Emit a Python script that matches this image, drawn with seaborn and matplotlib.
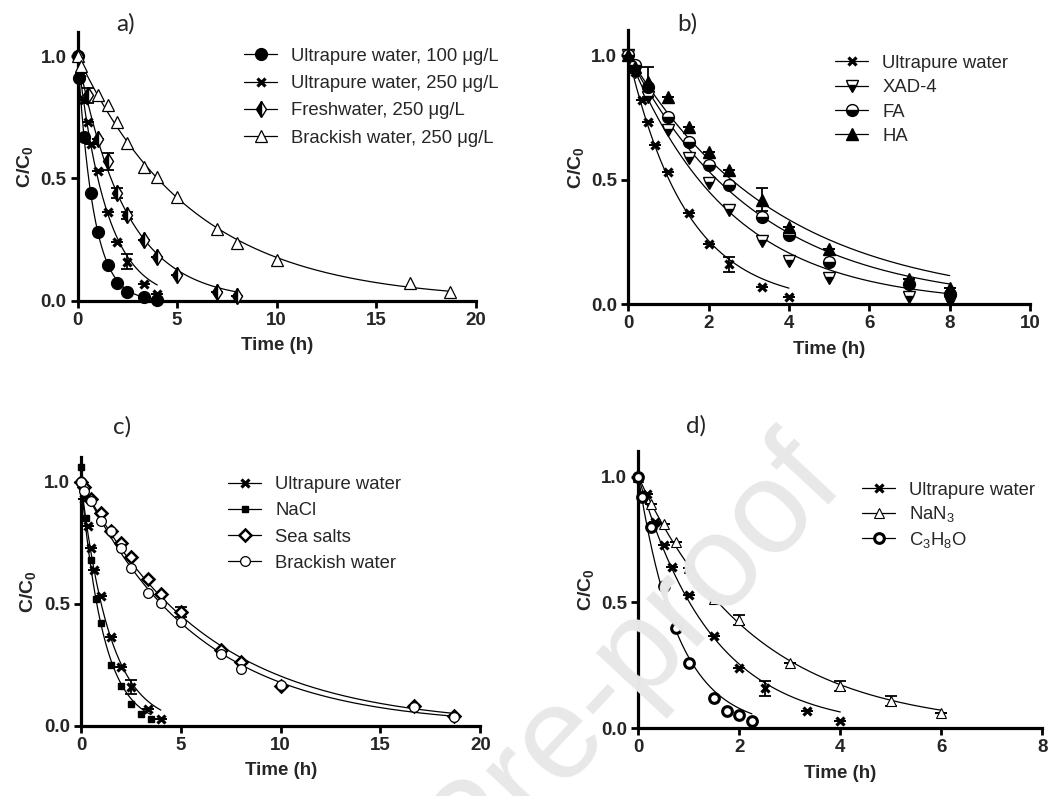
import numpy as np
import matplotlib

matplotlib.use("Agg")
import matplotlib.pyplot as plt
from matplotlib.lines import Line2D
import seaborn as sns

# ---- data (time in h, C/C0) ----
t_up = [0, 0.167, 0.333, 0.5, 0.667, 1, 1.5, 2, 2.5, 3.333, 4]
y_up = [1.0, 0.93, 0.82, 0.73, 0.64, 0.53, 0.365, 0.24, 0.16, 0.07, 0.03]
e_up = [0, 0, 0, 0, 0, 0, 0, 0, 0.03, 0, 0]

# a)
t_up100 = [0, 0.083, 0.333, 0.667, 1, 1.5, 2, 2.5, 3.333, 4]
y_up100 = [1.0, 0.91, 0.67, 0.44, 0.28, 0.146, 0.075, 0.035, 0.017, 0.005]
t_fresh = [0, 0.5, 1, 1.5, 2, 2.5, 3.333, 4, 5, 7, 8]
y_fresh = [1.0, 0.84, 0.66, 0.57, 0.44, 0.35, 0.25, 0.18, 0.105, 0.038, 0.02]
e_fresh = [0, 0.03, 0, 0.035, 0.02, 0.015, 0, 0, 0, 0, 0]
t_brack = [0, 0.167, 1, 1.5, 2, 2.5, 3.333, 4, 5, 7, 8, 10, 16.7, 18.7]
y_brack = [1.0, 0.96, 0.84, 0.80, 0.73, 0.645, 0.545, 0.505, 0.425, 0.295,
           0.235, 0.167, 0.075, 0.036]

# b)
t_nom = [0, 0.167, 0.5, 1, 1.5, 2, 2.5, 3.333, 4, 5, 7, 8]
y_xad = [1.0, 0.93, 0.83, 0.70, 0.585, 0.485, 0.38, 0.255, 0.175, 0.105, 0.03, 0.015]
y_fa = [1.0, 0.96, 0.87, 0.75, 0.65, 0.56, 0.48, 0.35, 0.28, 0.17, 0.08, 0.04]
y_ha = [1.0, 0.95, 0.89, 0.83, 0.71, 0.61, 0.54, 0.42, 0.31, 0.22, 0.10, 0.065]
e_ha = [0, 0, 0.06, 0, 0, 0, 0, 0.045, 0, 0, 0, 0]

# c)
t_nacl = [0, 0.083, 0.25, 0.5, 0.75, 1, 1.5, 2, 2.5, 3, 3.5]
y_nacl = [1.06, 0.97, 0.85, 0.68, 0.52, 0.42, 0.25, 0.165, 0.09, 0.048, 0.027]
t_sea = [0, 0.167, 0.5, 1, 1.5, 2, 2.5, 3.333, 4, 5, 7, 8, 10, 16.7, 18.7]
y_sea = [1.0, 0.98, 0.93, 0.87, 0.80, 0.75, 0.69, 0.60, 0.54, 0.465, 0.31,
         0.26, 0.165, 0.08, 0.04]
e_sea = [0, 0, 0, 0, 0, 0, 0, 0, 0, 0.02, 0, 0, 0, 0, 0]
t_brack_c = [0, 0.167, 0.5, 1, 1.5, 2, 2.5, 3.333, 4, 5, 7, 8, 10, 16.7, 18.7]
y_brack_c = [1.0, 0.96, 0.92, 0.84, 0.80, 0.73, 0.645, 0.545, 0.505, 0.425,
             0.295, 0.235, 0.168, 0.076, 0.038]

# d)
t_nan3 = [0, 0.25, 0.5, 0.75, 1, 1.5, 2, 3, 4, 5, 6]
y_nan3 = [1.0, 0.89, 0.81, 0.74, 0.635, 0.515, 0.43, 0.26, 0.17, 0.11, 0.06]
e_nan3 = [0, 0, 0, 0, 0, 0, 0.02, 0, 0.02, 0.02, 0]
t_prop = [0, 0.083, 0.25, 0.5, 0.75, 1, 1.5, 1.75, 2, 2.25]
y_prop = [1.0, 0.92, 0.80, 0.565, 0.40, 0.26, 0.12, 0.07, 0.053, 0.03]

FONT = "Liberation Sans"


def fit_curve(t, y):
    # first-order decay C/C0 = exp(-k t), least squares on a grid of k
    t = np.asarray(t, dtype=float)
    y = np.asarray(y, dtype=float)
    ks = np.linspace(0.01, 5, 20000)
    sse = ((y[None, :] - np.exp(-ks[:, None] * t[None, :])) ** 2).sum(axis=1)
    k = ks[np.argmin(sse)]
    tt = np.linspace(0, t.max(), 200)
    return tt, np.exp(-k * tt)


def draw_series(ax, t, y, err, style):
    tt, yy = fit_curve(t, y)
    sns.lineplot(x=tt, y=yy, ax=ax, color="black", linewidth=0.9,
                 legend=False, clip_on=False)
    ax.errorbar(t, y, yerr=err, fmt="none", ecolor="black", elinewidth=1.3,
                capsize=4, capthick=1.3, clip_on=False, zorder=3)
    ax.plot(t, y, linestyle="none", color="black", clip_on=False, zorder=4,
            **style)


def style_axes(ax, xmax, xstep, label, label_xy, handles, labels, leg_xy, spacing):
    ax.set_xlim(0, xmax)
    ax.set_ylim(0, 1.1)
    ax.set_xticks(np.arange(0, xmax + 0.01, xstep))
    ax.set_yticks([0, 0.5, 1.0])
    ax.set_yticklabels(["0.0", "0.5", "1.0"])
    for side in ("top", "right"):
        ax.spines[side].set_visible(False)
    for side in ("left", "bottom"):
        ax.spines[side].set_linewidth(2.3)
        ax.spines[side].set_color("black")
    ax.tick_params(direction="out", length=5, width=2, color="black",
                   labelsize=13.5, pad=3)
    for lab in ax.get_xticklabels() + ax.get_yticklabels():
        lab.set_fontweight("bold")
    ax.set_xlabel("Time (h)", fontsize=13.5, fontweight="bold", labelpad=6)
    ax.set_ylabel(r"$\mathbf{C/C_0}$", fontsize=14, labelpad=4)
    ax.text(label_xy[0], label_xy[1], label, transform=ax.transAxes,
            fontsize=17.5, family="Lato", ha="center", va="center")
    ax.legend(handles, labels, loc="upper left", bbox_to_anchor=leg_xy,
              frameon=False, fontsize=13.3, handlelength=1.8,
              handletextpad=0.75, labelspacing=spacing, borderpad=0,
              borderaxespad=0)


sns.set_style("ticks")
plt.rcParams["font.family"] = [FONT, "DejaVu Sans"]
plt.rcParams["mathtext.fontset"] = "custom"
plt.rcParams["mathtext.rm"] = FONT
plt.rcParams["mathtext.bf"] = FONT + ":bold"
plt.rcParams["mathtext.it"] = FONT + ":italic"

fig = plt.figure(figsize=(10.64, 7.96), dpi=100)
ax_a = fig.add_axes([0.073, 0.622, 0.374, 0.3383])
ax_b = fig.add_axes([0.5905, 0.6177, 0.3775, 0.3445])
ax_c = fig.add_axes([0.0761, 0.088, 0.3753, 0.3376])
ax_d = fig.add_axes([0.5999, 0.085, 0.3797, 0.3479])

m_x = dict(marker="x", markersize=6, markeredgewidth=2.3)
m_circ = dict(marker="o", markersize=8.5, markerfacecolor="black")
m_fresh = dict(marker="d", markersize=8, fillstyle="left",
               markerfacecoloralt="white", markeredgewidth=1)
m_tri_open = dict(marker="^", markersize=9, markerfacecolor="white",
                  markeredgewidth=0.9)
m_xad = dict(marker="v", markersize=8.5, fillstyle="bottom",
             markerfacecoloralt="white", markeredgewidth=1)
m_fa = dict(marker="o", markersize=8.5, fillstyle="bottom",
            markerfacecoloralt="white", markeredgewidth=1)
m_ha = dict(marker="^", markersize=8.5, markerfacecolor="black")
m_sq = dict(marker="s", markersize=4.5, markerfacecolor="black")
m_dia = dict(marker="D", markersize=6.5, markerfacecolor="white",
             markeredgewidth=1.8)
m_circ_open = dict(marker="o", markersize=7, markerfacecolor="white",
                   markeredgewidth=0.9)
m_tri_small = dict(marker="^", markersize=6.5, markerfacecolor="white",
                   markeredgewidth=0.8)
m_prop = dict(marker="o", markersize=7, markerfacecolor="white",
              markeredgewidth=2.2)


def handle(style):
    return Line2D([], [], color="black", linewidth=0.9, **style)


# a)
draw_series(ax_a, t_up100, y_up100, None, m_circ)
draw_series(ax_a, t_up, y_up, e_up, m_x)
draw_series(ax_a, t_fresh, y_fresh, e_fresh, m_fresh)
draw_series(ax_a, t_brack, y_brack, None, m_tri_open)
style_axes(ax_a, 20, 5, "a)", (0.121, 1.029),
           [handle(m_circ), handle(m_x), handle(m_fresh), handle(m_tri_open)],
           ["Ultrapure water, 100 \u03bcg/L", "Ultrapure water, 250 \u03bcg/L",
            "Freshwater, 250 \u03bcg/L", "Brackish water, 250 \u03bcg/L"],
           (0.418, 0.94), 0.56)

# b)
draw_series(ax_b, t_up, y_up, e_up, m_x)
draw_series(ax_b, t_nom, y_xad, None, m_xad)
draw_series(ax_b, t_nom, y_fa, None, m_fa)
draw_series(ax_b, t_nom, y_ha, e_ha, m_ha)
style_axes(ax_b, 10, 2, "b)", (0.147, 1.024),
           [handle(m_x), handle(m_xad), handle(m_fa), handle(m_ha)],
           ["Ultrapure water", "XAD-4", "FA", "HA"],
           (0.515, 0.91), 0.4)

# c)
draw_series(ax_c, t_up, y_up, e_up, m_x)
draw_series(ax_c, t_nacl, y_nacl, None, m_sq)
draw_series(ax_c, t_sea, y_sea, e_sea, m_dia)
draw_series(ax_c, t_brack_c, y_brack_c, None, m_circ_open)
style_axes(ax_c, 20, 5, "c)", (0.103, 1.113),
           [handle(m_x), handle(m_sq), handle(m_dia), handle(m_circ_open)],
           ["Ultrapure water", "NaCl", "Sea salts", "Brackish water"],
           (0.368, 0.93), 0.5)

# d)
draw_series(ax_d, t_up, y_up, e_up, m_x)
draw_series(ax_d, t_nan3, y_nan3, e_nan3, m_tri_small)
draw_series(ax_d, t_prop, y_prop, None, m_prop)
style_axes(ax_d, 8, 2, "d)", (0.142, 1.092),
           [handle(m_x), handle(m_tri_small), handle(m_prop)],
           ["Ultrapure water", r"NaN$_3$", r"C$_3$H$_8$O"],
           (0.554, 0.89), 0.3)

# journal watermark laid over the lower panels
fig.text(0.796, 0.389, "Journal Pre-proof", fontsize=95, color="#e8e8e8",
         rotation=47, rotation_mode="anchor", ha="right",
         va="baseline", family=FONT, zorder=10)

fig.savefig("out.png", dpi=100)
